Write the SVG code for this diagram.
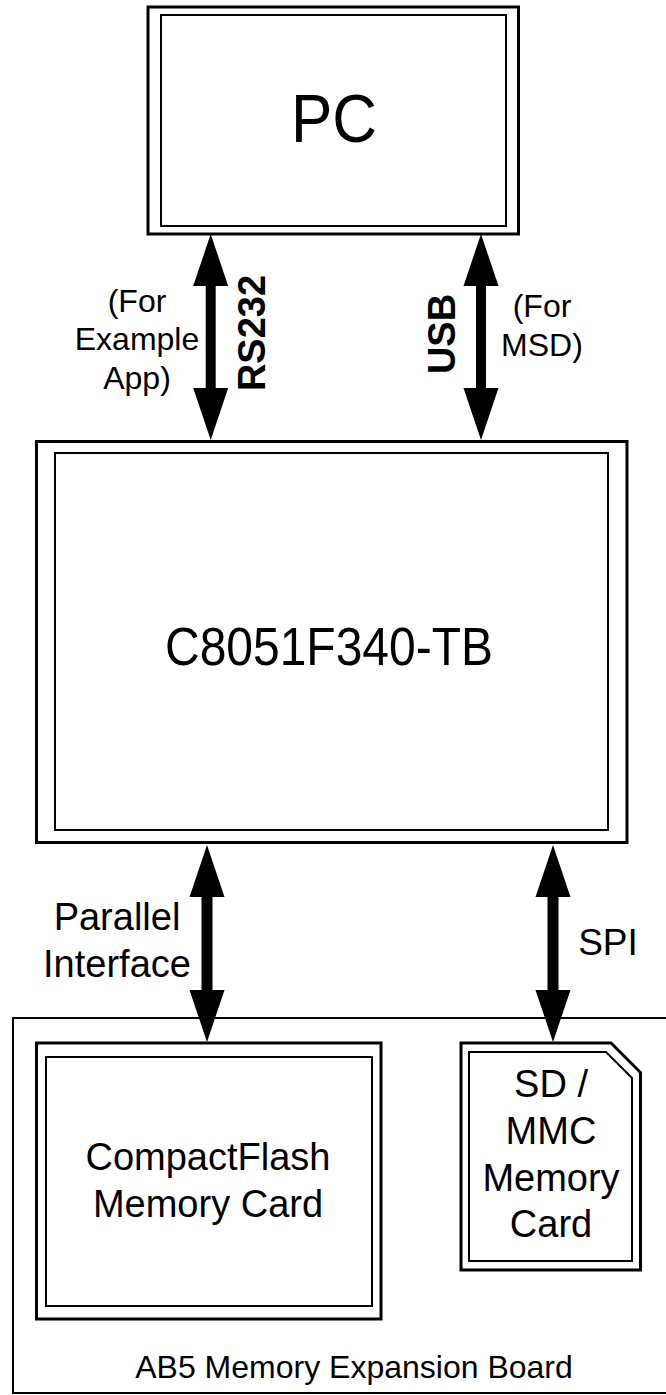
<svg xmlns="http://www.w3.org/2000/svg" width="666" height="1395" viewBox="0 0 666 1395">
<style>
.outer{fill:none;stroke:#000;stroke-width:3;stroke-linejoin:miter}
.inner{fill:none;stroke:#000;stroke-width:2;stroke-linejoin:miter}
.board{fill:none;stroke:#000;stroke-width:2}
.t{font-family:"Liberation Sans",Arial,sans-serif;fill:#000;text-anchor:middle}
.b{font-family:"Liberation Sans",Arial,sans-serif;font-weight:bold;fill:#000;text-anchor:middle}
.arrow{fill:#000;stroke:none}
</style>
<rect x="0" y="0" width="666" height="1395" fill="#fff"/>
<g id="board">
<rect class="board" x="13" y="1018" width="700" height="375"/>
<text class="t" x="354" y="1378" font-size="32">AB5 Memory Expansion Board</text>
</g>
<g id="pc">
<rect class="outer" x="148" y="7" width="370.5" height="227"/>
<rect class="inner" x="161" y="15" width="345" height="211"/>
<text class="t" font-size="62" transform="translate(334,142) scale(1,1.12)">PC</text>
</g>
<g id="mcu">
<rect class="outer" x="36.5" y="441.5" width="590.5" height="401"/>
<rect class="inner" x="55" y="453" width="553" height="377"/>
<text class="t" font-size="48" transform="translate(329,665) scale(1,1.1)">C8051F340-TB</text>
</g>
<g id="cf">
<rect class="outer" x="36.5" y="1043" width="344.5" height="276"/>
<rect class="inner" x="46" y="1057" width="326" height="249"/>
<text class="t" x="208" y="1170" font-size="38">CompactFlash</text>
<text class="t" x="208" y="1217" font-size="38">Memory Card</text>
</g>
<g id="sd">
<polygon class="outer" points="461,1043 611,1043 640.5,1072.5 640.5,1270 461,1270"/>
<polygon class="inner" points="469,1052 606,1052 632,1078 632,1261 469,1261"/>
<text class="t" x="551" y="1097" font-size="38">SD /</text>
<text class="t" x="551" y="1144" font-size="38">MMC</text>
<text class="t" x="551" y="1191" font-size="38">Memory</text>
<text class="t" x="551" y="1237" font-size="38">Card</text>
</g>
<g id="connectors">
<polygon class="arrow" points="210.7,234 228.2,286 215.7,286 215.7,388 228.2,388 210.7,440 193.2,388 205.7,388 205.7,286 193.2,286"/>
<polygon class="arrow" points="481,234 498.5,286 486,286 486,388 498.5,388 481,440 463.5,388 476,388 476,286 463.5,286"/>
<polygon class="arrow" points="207,845 224.5,897 212.5,897 212.5,990 224.5,990 207,1042 189.5,990 201.5,990 201.5,897 189.5,897"/>
<polygon class="arrow" points="553,845 570.5,897 558.5,897 558.5,990 570.5,990 553,1042 535.5,990 547.5,990 547.5,897 535.5,897"/>
<text class="t" x="137" y="312" font-size="32">(For</text>
<text class="t" x="137" y="350" font-size="32">Example</text>
<text class="t" x="137" y="389" font-size="32">App)</text>
<text class="b" font-size="38" transform="translate(265,333) rotate(-90)">RS232</text>
<text class="b" font-size="38" transform="translate(455,334) rotate(-90)">USB</text>
<text class="t" x="542" y="317" font-size="32">(For</text>
<text class="t" x="542" y="356" font-size="32">MSD)</text>
<text class="t" x="117" y="930" font-size="38">Parallel</text>
<text class="t" x="117" y="977" font-size="38">Interface</text>
<text class="t" x="608" y="955" font-size="37">SPI</text>
</g>
</svg>
